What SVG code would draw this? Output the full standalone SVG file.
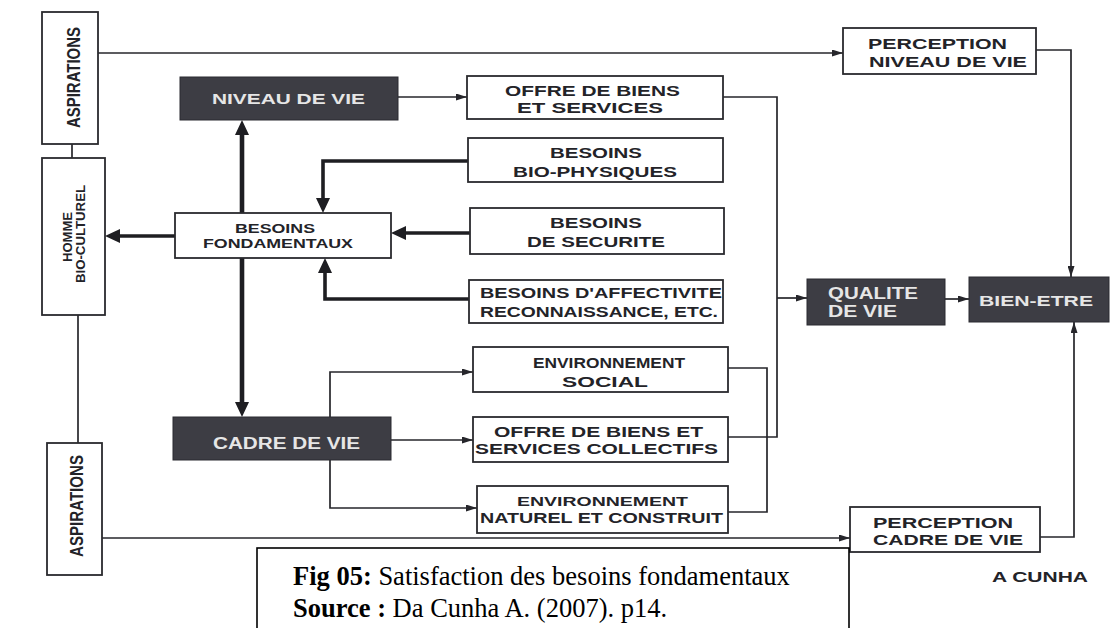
<svg xmlns="http://www.w3.org/2000/svg" width="1114" height="628" viewBox="0 0 1114 628">
<style>
.box{fill:#fff;stroke:#2a2a2e;stroke-width:1.8}
.dark{fill:#3d3d44;stroke:#2a2a30;stroke-width:1}
.t{font-family:"Liberation Sans",Arial,sans-serif;font-weight:bold;font-size:15px;fill:#232328}
.w{font-family:"Liberation Sans",Arial,sans-serif;font-weight:bold;font-size:15px;fill:#e6e6e6}
.s{font-size:13px}
.thin{fill:none;stroke:#26262b;stroke-width:1.7}
.thick{fill:none;stroke:#1e1e22;stroke-width:3.6}
.vthick{fill:none;stroke:#1e1e22;stroke-width:4.6}
.cap{font-family:"Liberation Serif","Times New Roman",serif;font-size:26.5px;fill:#000}
</style>
<defs>
<marker id="a" viewBox="0 0 11 7" refX="11" refY="3.5" markerWidth="11" markerHeight="7" markerUnits="userSpaceOnUse" orient="auto"><path d="M0,0 L11,3.5 L0,7 z" fill="#26262b"/></marker>
<marker id="A" viewBox="0 0 15 14" refX="3" refY="7" markerWidth="15" markerHeight="14" markerUnits="userSpaceOnUse" orient="auto-start-reverse"><path d="M0,0 L15,7 L0,14 z" fill="#1e1e22"/></marker>
</defs>
<rect width="1114" height="628" fill="#fff"/>

<g id="connectors">
<path class="thin" d="M98,53 H843" marker-end="url(#a)"/>
<path class="thin" d="M72,144 V158"/>
<path class="thin" d="M78,315 V443"/>
<path class="thin" d="M102,538 H850" marker-end="url(#a)"/>
<path class="thin" d="M398,97 H467" marker-end="url(#a)"/>
<path class="thin" d="M723,97 H777 V437 H728"/>
<path class="thin" d="M777,298 H807" marker-end="url(#a)"/>
<path class="thin" d="M728,368 H767 V512 H728"/>
<path class="thin" d="M1036,50 H1071 V277" marker-end="url(#a)"/>
<path class="thin" d="M1040,537 H1074 V322" marker-end="url(#a)"/>
<path class="thin" d="M945,299 H969" marker-end="url(#a)"/>
<path class="thin" d="M391,440 H473" marker-end="url(#a)"/>
<path class="thin" d="M330,417 V372 H473" marker-end="url(#a)"/>
<path class="thin" d="M330,460 V508 H477" marker-end="url(#a)"/>
<path class="thick" d="M175,236 H117" marker-end="url(#A)"/>
<path class="thick" d="M468,161 H323 V201" marker-end="url(#A)"/>
<path class="thick" d="M470,233 H403" marker-end="url(#A)"/>
<path class="thick" d="M469,299 H325 V270" marker-end="url(#A)"/>
<path class="vthick" d="M242,132 V405" marker-start="url(#A)" marker-end="url(#A)"/>
</g>

<g id="aspirations1">
<rect class="box" x="42" y="12" width="56" height="132"/>
<text class="t" style="font-size:18px" transform="translate(80,128) rotate(-90)" textLength="101" lengthAdjust="spacingAndGlyphs">ASPIRATIONS</text>
</g>
<g id="homme">
<rect class="box" x="42" y="158" width="63" height="157"/>
<text class="t s" transform="translate(72,262) rotate(-90)" textLength="50" lengthAdjust="spacingAndGlyphs">HOMME</text>
<text class="t s" transform="translate(85,283) rotate(-90)" textLength="98" lengthAdjust="spacingAndGlyphs">BIO-CULTUREL</text>
</g>
<g id="aspirations2">
<rect class="box" x="47" y="443" width="55" height="132"/>
<text class="t" style="font-size:18px" transform="translate(83,557) rotate(-90)" textLength="102" lengthAdjust="spacingAndGlyphs">ASPIRATIONS</text>
</g>

<g id="niveau">
<rect class="dark" x="180" y="77" width="218" height="43"/>
<text class="w" x="212" y="104" textLength="153" lengthAdjust="spacingAndGlyphs">NIVEAU DE VIE</text>
</g>
<g id="offre">
<rect class="box" x="467" y="76" width="256" height="43"/>
<text class="t" x="505" y="96" textLength="175" lengthAdjust="spacingAndGlyphs">OFFRE DE BIENS</text>
<text class="t" x="517" y="113" textLength="146" lengthAdjust="spacingAndGlyphs">ET SERVICES</text>
</g>
<g id="biophys">
<rect class="box" x="468" y="138" width="255" height="44"/>
<text class="t" x="550" y="158" textLength="92" lengthAdjust="spacingAndGlyphs">BESOINS</text>
<text class="t" x="513" y="177" textLength="164" lengthAdjust="spacingAndGlyphs">BIO-PHYSIQUES</text>
</g>
<g id="securite">
<rect class="box" x="470" y="208" width="254" height="46"/>
<text class="t" x="550" y="228" textLength="92" lengthAdjust="spacingAndGlyphs">BESOINS</text>
<text class="t" x="527" y="247" textLength="138" lengthAdjust="spacingAndGlyphs">DE SECURITE</text>
</g>
<g id="affectivite">
<rect class="box" x="469" y="280" width="254" height="43"/>
<text class="t" x="480" y="298" textLength="242" lengthAdjust="spacingAndGlyphs">BESOINS D'AFFECTIVITE</text>
<text class="t" x="480" y="317" textLength="238" lengthAdjust="spacingAndGlyphs">RECONNAISSANCE, ETC.</text>
</g>
<g id="fondamentaux">
<rect class="box" x="175" y="213" width="216" height="45"/>
<text class="t s" x="235" y="233" textLength="80" lengthAdjust="spacingAndGlyphs">BESOINS</text>
<text class="t s" x="203" y="248" textLength="150" lengthAdjust="spacingAndGlyphs">FONDAMENTAUX</text>
</g>
<g id="envsocial">
<rect class="box" x="473" y="347" width="255" height="45"/>
<text class="t" x="533" y="368" textLength="152" lengthAdjust="spacingAndGlyphs">ENVIRONNEMENT</text>
<text class="t" x="562" y="387" textLength="86" lengthAdjust="spacingAndGlyphs">SOCIAL</text>
</g>
<g id="cadre">
<rect class="dark" x="173" y="417" width="218" height="43"/>
<text class="w" style="font-size:16px" x="213" y="449" textLength="147" lengthAdjust="spacingAndGlyphs">CADRE DE VIE</text>
</g>
<g id="collectifs">
<rect class="box" x="473" y="417" width="255" height="45"/>
<text class="t" x="494" y="437" textLength="209" lengthAdjust="spacingAndGlyphs">OFFRE DE BIENS ET</text>
<text class="t" x="475" y="454" textLength="243" lengthAdjust="spacingAndGlyphs">SERVICES COLLECTIFS</text>
</g>
<g id="envnaturel">
<rect class="box" x="477" y="486" width="251" height="47"/>
<text class="t s" x="517" y="506" textLength="171" lengthAdjust="spacingAndGlyphs">ENVIRONNEMENT</text>
<text class="t" x="480" y="523" textLength="243" lengthAdjust="spacingAndGlyphs">NATUREL ET CONSTRUIT</text>
</g>
<g id="percNiveau">
<rect class="box" x="843" y="28" width="193" height="46"/>
<text class="t" x="868" y="49" textLength="139" lengthAdjust="spacingAndGlyphs">PERCEPTION</text>
<text class="t" x="869" y="67" textLength="158" lengthAdjust="spacingAndGlyphs">NIVEAU DE VIE</text>
</g>
<g id="percCadre">
<rect class="box" x="850" y="507" width="190" height="45"/>
<text class="t" x="873" y="528" textLength="140" lengthAdjust="spacingAndGlyphs">PERCEPTION</text>
<text class="t" x="873" y="545" textLength="150" lengthAdjust="spacingAndGlyphs">CADRE DE VIE</text>
</g>
<g id="qualite">
<rect class="dark" x="807" y="279" width="138" height="46"/>
<text class="w" style="font-size:16px" x="828" y="299" textLength="90" lengthAdjust="spacingAndGlyphs">QUALITE</text>
<text class="w" style="font-size:16px" x="828" y="317" textLength="69" lengthAdjust="spacingAndGlyphs">DE VIE</text>
</g>
<g id="bienetre">
<rect class="dark" x="969" y="277" width="140" height="45"/>
<text class="w" x="979" y="306" textLength="114" lengthAdjust="spacingAndGlyphs">BIEN-ETRE</text>
</g>
<g id="author">
<text class="t" x="992" y="582" textLength="96" lengthAdjust="spacingAndGlyphs">A CUNHA</text>
</g>

<g id="caption">
<rect x="257" y="548" width="592" height="100" fill="#fff" stroke="#000" stroke-width="1.6"/>
<text class="cap" x="293" y="585"><tspan font-weight="bold">Fig 05:</tspan> Satisfaction des besoins fondamentaux</text>
<text class="cap" x="293" y="617"><tspan font-weight="bold">Source :</tspan> Da Cunha A. (2007). p14.</text>
</g>
</svg>
